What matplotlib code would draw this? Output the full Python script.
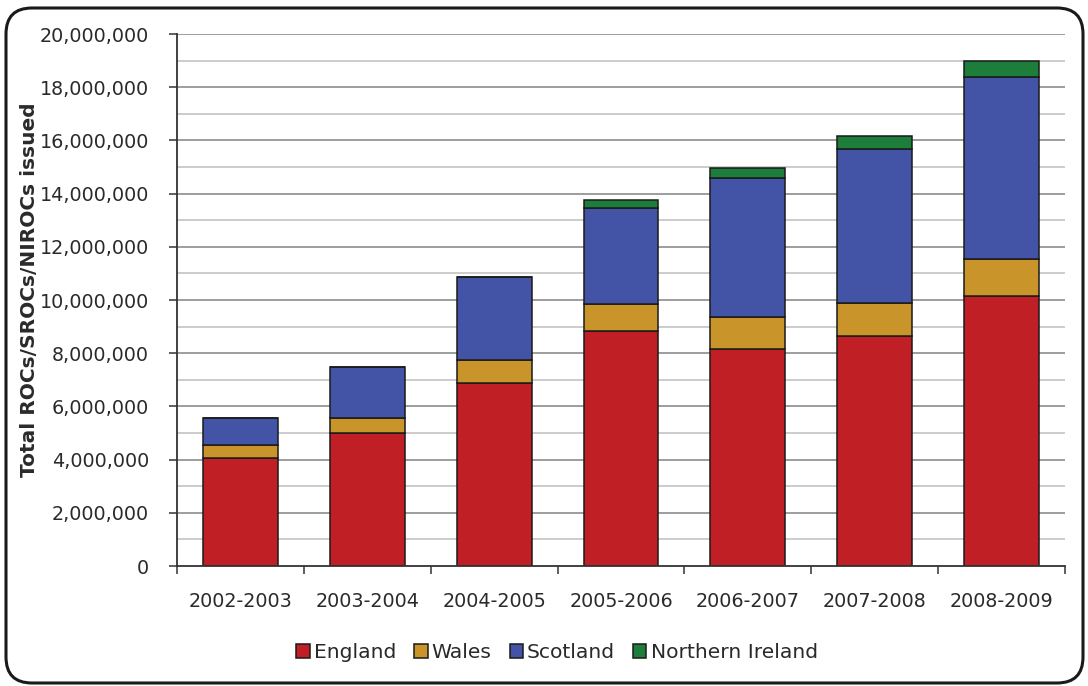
import numpy as np
import matplotlib
matplotlib.use("Agg")
import matplotlib.pyplot as plt
from matplotlib.patches import FancyBboxPatch
from matplotlib.ticker import FuncFormatter, MultipleLocator
from matplotlib.transforms import IdentityTransform

# certificates issued per year, by country (millions)
years = ["2002-2003", "2003-2004", "2004-2005", "2005-2006",
         "2006-2007", "2007-2008", "2008-2009"]
england = [4.07, 4.99, 6.89, 8.83, 8.16, 8.66, 10.15]
wales = [0.48, 0.59, 0.85, 1.01, 1.21, 1.22, 1.38]
scotland = [1.03, 1.90, 3.12, 3.61, 5.23, 5.79, 6.84]
n_ireland = [0.0, 0.0, 0.0, 0.31, 0.35, 0.50, 0.61]

series = [("England", england, "#C11F26"),
          ("Wales", wales, "#C9952B"),
          ("Scotland", scotland, "#4353A6"),
          ("Northern Ireland", n_ireland, "#1D7E3B")]

plt.rcParams['font.family'] = ['DejaVu Sans']
txt = "#2a2a2a"
fs = 13.8

fig = plt.figure(figsize=(10.88, 6.86), dpi=100)
ax = fig.add_axes([0.1627, 0.1749, 0.9789 - 0.1627, 0.9504 - 0.1749])

x = np.arange(len(years))
bottom = np.zeros(len(years))
handles = []
for name, vals, col in series:
    vals = np.array(vals) * 1e6
    b = ax.bar(x, vals, 0.59, bottom=bottom, color=col,
               edgecolor="#1a1a1a", linewidth=1.1, label=name, zorder=3)
    handles.append(b)
    bottom += vals

ax.set_xlim(-0.5, len(years) - 0.5)
ax.set_ylim(0, 20e6)

# gridlines: darker on labelled values, lighter in between
for v in np.arange(1e6, 20.5e6, 1e6):
    major = int(round(v / 1e6)) % 2 == 0
    ax.axhline(v, color="#8c8c8c" if major else "#c4c4c4",
               lw=1.2, zorder=1)

ax.yaxis.set_major_locator(MultipleLocator(2e6))
ax.yaxis.set_major_formatter(FuncFormatter(lambda v, p: f"{int(v):,}"))
ax.set_xticks(x)
ax.set_xticklabels(years)
ax.set_xticks(np.arange(-0.5, len(years)), minor=True)
ax.tick_params(axis="x", which="major", length=0, pad=19,
               labelsize=fs, labelcolor=txt)
ax.tick_params(axis="x", which="minor", length=6, width=1.1,
               direction="out", color="#333333")
ax.tick_params(axis="y", length=6, width=1.1, direction="out",
               color="#333333", labelsize=fs, labelcolor=txt, pad=14)

for s in ["top", "right"]:
    ax.spines[s].set_visible(False)
for s in ["left", "bottom"]:
    ax.spines[s].set_color("#333333")
    ax.spines[s].set_linewidth(1.3)
    ax.spines[s].set_zorder(4)

ax.set_ylabel("Total ROCs/SROCs/NIROCs issued", fontsize=14.5,
              fontweight="bold", color=txt)
ax.yaxis.set_label_coords(-0.155, 0.52)

leg = fig.legend(handles=handles, loc="center", bbox_to_anchor=(0.512, 0.049),
                 ncol=4, frameon=False, fontsize=14.6, handlelength=0.65,
                 handleheight=0.65, handletextpad=0.2, columnspacing=0.9)
for t in leg.get_texts():
    t.set_color(txt)

# rounded outer frame, in pixels
frame = FancyBboxPatch((6, 3), 1077, 675,
                       boxstyle="round,pad=0,rounding_size=26",
                       transform=IdentityTransform(), facecolor="none",
                       edgecolor="#1a1a1a", linewidth=2.2, zorder=10)
fig.patches.append(frame)

fig.savefig("out.png", dpi=100)
